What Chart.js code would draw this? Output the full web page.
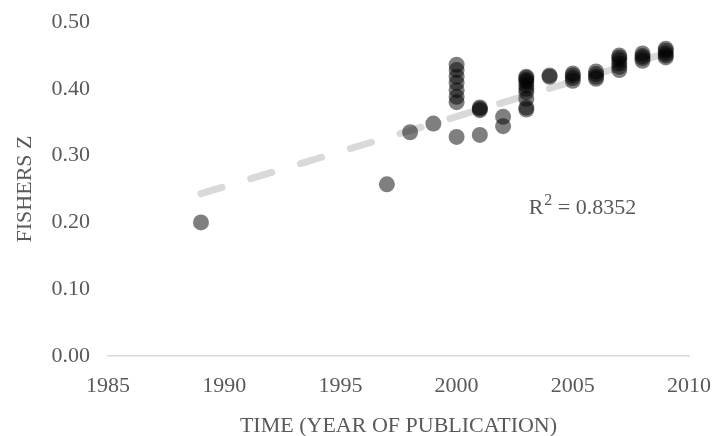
<!doctype html>
<html lang="en">
    <head>
        <meta charset="utf-8">
        <script src="https://cdn.jsdelivr.net/npm/chart.js"></script>
        <style>
        html, body {
            margin: 0;
            padding: 0;
            background-color: #ffffff;
        }
        #wrap {
            width: 717px;
            height: 436px;
        }
        </style>
        <title>Fishers Z over time</title>
    </head>
    <body>
        <div id="wrap"><canvas id="chart"></canvas></div>
        <script>
        // year of publication and Fishers Z for each study
        const years = [
            1989, 1997, 1998, 1999,
            2000, 2000, 2000, 2000, 2000, 2000, 2000, 2000,
            2001, 2001, 2001, 2001,
            2002, 2002,
            2003, 2003, 2003, 2003, 2003, 2003, 2003, 2003, 2003, 2003,
            2004, 2004,
            2005, 2005, 2005, 2005,
            2006, 2006, 2006, 2006,
            2007, 2007, 2007, 2007, 2007, 2007,
            2008, 2008, 2008, 2008,
            2009, 2009, 2009, 2009, 2009
        ];
        const fishersZ = [
            0.200, 0.257, 0.335, 0.348,
            0.328, 0.380, 0.388, 0.398, 0.409, 0.418, 0.428, 0.436,
            0.331, 0.368, 0.370, 0.372,
            0.344, 0.358,
            0.369, 0.372, 0.385, 0.395, 0.400, 0.405, 0.410, 0.413, 0.416, 0.418,
            0.418, 0.420,
            0.412, 0.416, 0.420, 0.423,
            0.415, 0.418, 0.422, 0.426,
            0.428, 0.433, 0.438, 0.443, 0.447, 0.450,
            0.442, 0.446, 0.449, 0.453,
            0.447, 0.450, 0.453, 0.457, 0.460
        ];
        // linear trend end points
        const trendYears = [1989, 2009];
        const trendZ = [0.243, 0.453];
        const rSquared = '0.8352';
        const xTicks = [1985, 2010, 5];
        const yTicks = [0, 0.5, 0.1];

        const fontFamily = '"Liberation Serif", serif';
        const fontSize = 22;
        const textColor = '#595959';

        const points = years.map((yr, i) => ({ x: yr, y: fishersZ[i] }));
        const trend = trendYears.map((yr, i) => ({ x: yr, y: trendZ[i] }));

        // R² label next to the trend line
        const r2Label = {
            id: 'r2Label',
            afterDatasetsDraw(chart) {
                const ctx = chart.ctx;
                const x = chart.scales.x.getPixelForValue(2003.1);
                const y = chart.scales.y.getPixelForValue(0.2216);
                ctx.save();
                ctx.fillStyle = textColor;
                ctx.textBaseline = 'middle';
                ctx.font = fontSize + 'px ' + fontFamily;
                ctx.fillText('R', x, y);
                let w = ctx.measureText('R').width;
                ctx.font = '16px ' + fontFamily;
                ctx.fillText('2', x + w + 1, y - 7);
                w += ctx.measureText('2').width + 1;
                ctx.font = fontSize + 'px ' + fontFamily;
                ctx.fillText(' = ' + rSquared, x + w, y);
                ctx.restore();
            }
        };

        new Chart(document.getElementById('chart'), {
            type: 'scatter',
            data: {
                datasets: [{
                    label: 'trend',
                    type: 'line',
                    data: trend,
                    borderColor: '#d9d9d9',
                    borderWidth: 7,
                    borderDash: [22, 30],
                    borderCapStyle: 'round',
                    pointRadius: 0,
                    fill: false,
                    order: 2
                }, {
                    label: 'Fishers Z',
                    data: points,
                    backgroundColor: 'rgba(0,0,0,0.5)',
                    borderWidth: 0,
                    pointRadius: 8,
                    pointHoverRadius: 8,
                    order: 1
                }]
            },
            options: {
                responsive: true,
                maintainAspectRatio: false,
                animation: false,
                layout: { padding: { top: 22, right: 28, left: 0, bottom: 0 } },
                plugins: {
                    legend: { display: false },
                    tooltip: { enabled: false }
                },
                scales: {
                    x: {
                        type: 'linear',
                        min: xTicks[0],
                        max: xTicks[1],
                        ticks: {
                            stepSize: xTicks[2],
                            color: textColor,
                            font: { family: fontFamily, size: fontSize },
                            padding: 17,
                            callback: v => String(v)
                        },
                        grid: { display: false, drawTicks: false },
                        border: { display: true, color: '#d9d9d9', width: 1.5 },
                        title: {
                            display: true,
                            text: 'TIME (YEAR OF PUBLICATION)',
                            color: textColor,
                            font: { family: fontFamily, size: fontSize },
                            padding: { top: 4, bottom: -3 }
                        },
                        afterFit(scale) {
                            scale.height = 80;
                            scale.paddingLeft = 0;
                            scale.paddingRight = 0;
                        }
                    },
                    y: {
                        min: yTicks[0],
                        max: yTicks[1],
                        ticks: {
                            stepSize: yTicks[2],
                            color: textColor,
                            font: { family: fontFamily, size: fontSize },
                            padding: 18,
                            callback: v => v.toFixed(2)
                        },
                        grid: { display: false, drawTicks: false },
                        border: { display: false },
                        title: {
                            display: true,
                            text: 'FISHERS Z',
                            color: textColor,
                            font: { family: fontFamily, size: fontSize },
                            padding: { top: 12, bottom: 0 }
                        },
                        afterFit(scale) {
                            scale.width = 108;
                            scale.paddingTop = 0;
                            scale.paddingBottom = 0;
                        }
                    }
                }
            },
            plugins: [r2Label]
        });
        </script>
    </body>
</html>
